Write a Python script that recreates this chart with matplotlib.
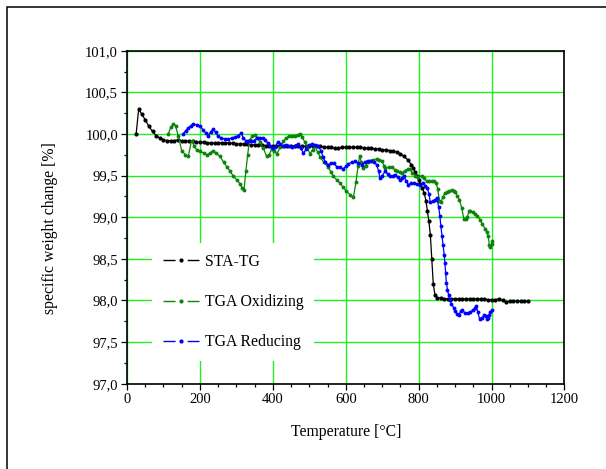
import matplotlib
matplotlib.use("Agg")
import matplotlib.pyplot as plt
from matplotlib.lines import Line2D
from matplotlib.patches import Rectangle
from matplotlib.ticker import MultipleLocator, FuncFormatter

plt.rcParams["font.family"] = ["Liberation Serif", "DejaVu Serif"]

# ── data ──────────────────────────────────────────────────────────────────
sta_t = [25, 32, 40, 50, 60, 70, 80, 90, 100, 110, 120, 130, 140, 150, 160, 170,
         180, 190, 200, 210, 220, 230, 240, 250, 260, 270, 280, 290, 300, 310,
         320, 330, 340, 350, 360, 370, 380, 390, 400, 410, 420, 430, 440, 450,
         460, 470, 480, 490, 500, 510, 520, 530, 540, 550, 560, 570, 580, 590,
         600, 610, 620, 630, 640, 650, 660, 670, 680, 690, 700, 710, 720, 730,
         740, 750, 760, 770, 780, 785, 790, 795, 800, 805, 810, 815, 820, 824,
         828, 832, 836, 840, 845, 850, 860, 870, 880, 890, 900, 910, 920, 930,
         940, 950, 960, 970, 980, 990, 1000, 1010, 1020, 1030, 1040, 1050, 1060,
         1070, 1080, 1090, 1100]
sta_w = [100.00, 100.30, 100.24, 100.17, 100.09, 100.03, 99.98, 99.95, 99.93,
         99.92, 99.92, 99.92, 99.93, 99.92, 99.92, 99.91, 99.91, 99.90, 99.90,
         99.90, 99.89, 99.89, 99.89, 99.89, 99.89, 99.89, 99.89, 99.89, 99.88,
         99.88, 99.88, 99.88, 99.87, 99.87, 99.87, 99.87, 99.86, 99.86, 99.86,
         99.86, 99.86, 99.86, 99.86, 99.85, 99.85, 99.85, 99.85, 99.85, 99.85,
         99.85, 99.85, 99.85, 99.84, 99.84, 99.84, 99.83, 99.83, 99.84, 99.84,
         99.84, 99.84, 99.84, 99.84, 99.83, 99.83, 99.83, 99.82, 99.82, 99.81,
         99.81, 99.80, 99.79, 99.78, 99.76, 99.73, 99.69, 99.63, 99.59, 99.54,
         99.49, 99.45, 99.40, 99.35, 99.29, 99.20, 99.07, 98.95, 98.79, 98.50,
         98.20, 98.06, 98.03, 98.03, 98.02, 98.02, 98.02, 98.02, 98.02, 98.02,
         98.02, 98.02, 98.02, 98.02, 98.02, 98.02, 98.01, 98.01, 98.01, 98.02,
         98.00, 97.98, 97.99, 97.99, 97.99, 97.99, 97.99, 97.99]

oxi_t = [113, 120, 127, 133, 141, 150, 160, 168, 177, 184, 191, 200, 210, 219,
         228, 235, 245, 255, 265, 275, 283, 292, 301, 310, 316, 321, 326, 331,
         336, 344, 351, 358, 365, 374, 383, 390, 397, 404, 411, 420, 429, 436,
         443, 452, 460, 468, 475, 481, 488, 495, 502, 509, 516, 523, 530, 540,
         552, 560, 566, 575, 584, 593, 602, 612, 621, 628, 634, 638, 643, 648,
         655, 661, 667, 676, 685, 692, 699, 705, 709, 718, 727, 735, 741, 748,
         754, 762, 770, 776, 783, 790, 797, 808, 815, 822, 829, 836, 842, 848,
         852, 857, 861, 866, 872, 878, 884, 891, 896, 900, 906, 912, 918, 924,
         929, 933, 938, 941, 948, 955, 961, 968, 975, 982, 987, 991, 994, 997,
         1000, 1002]
oxi_w = [100.00, 100.08, 100.12, 100.10, 99.97, 99.80, 99.75, 99.73, 99.92,
         99.86, 99.81, 99.79, 99.77, 99.75, 99.77, 99.80, 99.77, 99.73, 99.66,
         99.60, 99.55, 99.49, 99.45, 99.40, 99.35, 99.33, 99.55, 99.75, 99.93,
         99.97, 99.99, 99.95, 99.90, 99.83, 99.73, 99.75, 99.82, 99.80, 99.76,
         99.84, 99.91, 99.95, 99.97, 99.97, 99.98, 99.99, 100.00, 99.96, 99.90,
         99.83, 99.76, 99.81, 99.85, 99.78, 99.72, 99.66, 99.60, 99.54, 99.49,
         99.45, 99.41, 99.36, 99.31, 99.27, 99.24, 99.42, 99.62, 99.74, 99.66,
         99.59, 99.62, 99.66, 99.68, 99.69, 99.70, 99.69, 99.67, 99.62, 99.59,
         99.60, 99.60, 99.57, 99.55, 99.54, 99.53, 99.56, 99.58, 99.58, 99.53,
         99.50, 99.48, 99.50, 99.47, 99.43, 99.43, 99.43, 99.44, 99.41, 99.34,
         99.20, 99.18, 99.24, 99.29, 99.30, 99.31, 99.33, 99.32, 99.30, 99.26,
         99.21, 99.11, 98.98, 98.98, 99.00, 99.07, 99.08, 99.06, 99.04, 99.02,
         98.97, 98.92, 98.86, 98.82, 98.77, 98.66, 98.64, 98.68, 98.72]

red_t = [154, 161, 168, 175, 182, 191, 200, 209, 216, 222, 229, 236, 243, 250,
         259, 269, 278, 287, 296, 305, 313, 319, 326, 333, 340, 348, 356, 364,
         372, 379, 386, 393, 400, 406, 413, 420, 428, 436, 444, 452, 460, 468,
         476, 484, 492, 500, 508, 516, 524, 532, 538, 544, 552, 560, 568, 576,
         584, 593, 600, 607, 616, 625, 634, 644, 652, 660, 670, 678, 685, 690,
         694, 700, 708, 715, 722, 729, 736, 742, 749, 755, 760, 766, 772, 779,
         786, 795, 804, 812, 818, 824, 828, 832, 838, 845, 850, 855, 858, 861,
         864, 867, 870, 872, 874, 876, 879, 882, 886, 890, 896, 901, 905, 910,
         915, 920, 927, 934, 941, 948, 954, 958, 962, 967, 973, 979, 984, 987,
         991, 994, 997, 1000]
red_w = [100.00, 100.04, 100.07, 100.10, 100.12, 100.11, 100.09, 100.05,
         100.01, 99.98, 100.02, 100.06, 100.02, 99.97, 99.95, 99.94, 99.94,
         99.95, 99.96, 99.98, 100.01, 99.95, 99.92, 99.91, 99.91, 99.92, 99.95,
         99.95, 99.95, 99.93, 99.89, 99.86, 99.83, 99.84, 99.90, 99.88, 99.85,
         99.87, 99.86, 99.84, 99.86, 99.88, 99.83, 99.77, 99.82, 99.87, 99.88,
         99.87, 99.85, 99.80, 99.72, 99.66, 99.63, 99.65, 99.65, 99.60, 99.60,
         99.58, 99.61, 99.64, 99.66, 99.67, 99.65, 99.63, 99.66, 99.68, 99.67,
         99.66, 99.63, 99.55, 99.47, 99.50, 99.55, 99.52, 99.49, 99.50, 99.51,
         99.48, 99.45, 99.47, 99.49, 99.43, 99.39, 99.41, 99.41, 99.40, 99.39,
         99.41, 99.38, 99.35, 99.28, 99.18, 99.19, 99.21, 99.23, 99.12, 99.02,
         98.89, 98.78, 98.66, 98.55, 98.45, 98.33, 98.21, 98.13, 98.07, 98.01,
         97.96, 97.91, 97.87, 97.84, 97.82, 97.87, 97.88, 97.85, 97.85, 97.86,
         97.88, 97.91, 97.93, 97.86, 97.78, 97.79, 97.82, 97.81, 97.78, 97.79,
         97.82, 97.86, 97.88]

labels = ["STA-TG", "TGA Oxidizing", "TGA Reducing"]
colors = ["black", "#0a850a", "#0000ff"]
grid_col = "#22ee22"

fig = plt.figure(figsize=(6.06, 4.69), dpi=100)
ax = fig.add_axes([0.2096, 0.1819, 0.7219, 0.7100])

# outer frame (right / bottom edges fall outside the picture)
fig.patches.append(Rectangle((7 / 606, -0.1), 1.2, 1.1 - 7 / 469,
                             transform=fig.transFigure, fill=False,
                             edgecolor="black", lw=1.1))

for (t, w), c, ms in zip([(sta_t, sta_w), (oxi_t, oxi_w), (red_t, red_w)], colors,
                         [3.0, 2.8, 2.8]):
    ax.plot(t, w, color=c, lw=0.9, marker="o", ms=ms, mew=0, zorder=3)

ax.set_xlim(0, 1200)
ax.set_ylim(97.0, 101.0)
ax.xaxis.set_major_locator(MultipleLocator(200))
ax.xaxis.set_minor_locator(MultipleLocator(50))
ax.yaxis.set_major_locator(MultipleLocator(0.5))
ax.yaxis.set_minor_locator(MultipleLocator(0.25))
ax.yaxis.set_major_formatter(FuncFormatter(lambda v, p: "{:.1f}".format(v).replace(".", ",")))
ax.tick_params(which="major", direction="out", length=4.5, width=0.9, labelsize=10.5,
               top=False, right=False, pad=2)
ax.tick_params(which="minor", direction="out", length=2.5, width=0.9, top=False, right=False)
for s in ax.spines.values():
    s.set_linewidth(1.2)

ax.grid(True, which="major", color=grid_col, lw=1.0, zorder=0)
ax.set_axisbelow(True)

ax.set_xlabel("Temperature [°C]", fontsize=11.3, labelpad=13)
ax.set_ylabel("specific weight change [%]", fontsize=11.3)
ax.yaxis.set_label_coords(-0.158, 0.4676)

handles = [Line2D([], [], color=c, lw=1.0, dashes=(8.7, 8.7), marker="o", ms=3, mew=0)
           for c in colors]
leg = ax.legend(handles, labels, loc="upper left", bbox_to_anchor=(0.057, 0.4225),
                borderaxespad=0, fontsize=11.3, frameon=True, fancybox=False,
                facecolor="white", edgecolor="none", framealpha=1,
                handlelength=2.3, handletextpad=0.35, labelspacing=1.53,
                borderpad=0.7, numpoints=1)
leg.set_zorder(2)

fig.savefig("out.png", dpi=100)
